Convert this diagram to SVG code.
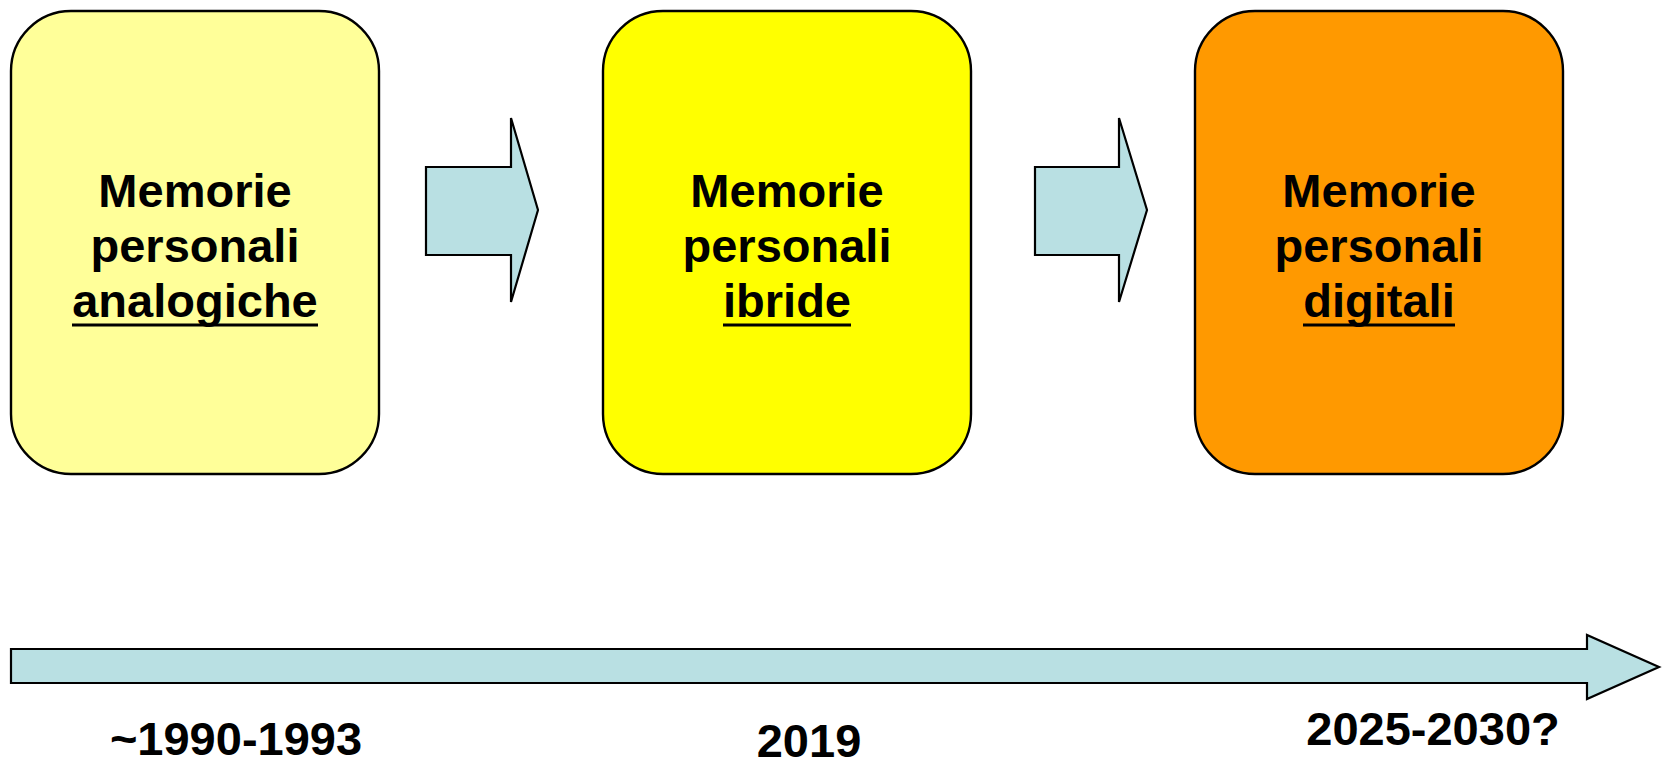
<svg xmlns="http://www.w3.org/2000/svg" width="1663" height="765" viewBox="0 0 1663 765">
<style>
.box{stroke:#000;stroke-width:2.4}
.arr{fill:#B9E0E3;stroke:#000;stroke-width:2.2;stroke-linejoin:miter}
.t{font-family:"Liberation Sans",Arial,sans-serif;font-weight:bold;font-size:47px;fill:#000;text-anchor:middle}
.ul{stroke:#000;stroke-width:3.2}
</style>
<rect x="0" y="0" width="1663" height="765" fill="#fff"/>
<g id="node-analogiche">
<rect class="box" x="11" y="11" width="368" height="463" rx="60" ry="60" fill="#FFFF99"/>
<text class="t" x="195" y="207">Memorie</text>
<text class="t" x="195" y="262">personali</text>
<text class="t" x="195" y="317">analogiche</text>
<line class="ul" x1="72" y1="325" x2="318" y2="325"/>
</g>
<g id="node-ibride">
<rect class="box" x="603" y="11" width="368" height="463" rx="60" ry="60" fill="#FFFF00"/>
<text class="t" x="787" y="207">Memorie</text>
<text class="t" x="787" y="262">personali</text>
<text class="t" x="787" y="317">ibride</text>
<line class="ul" x1="723" y1="325" x2="851" y2="325"/>
</g>
<g id="node-digitali">
<rect class="box" x="1195" y="11" width="368" height="463" rx="60" ry="60" fill="#FF9900"/>
<text class="t" x="1379" y="207">Memorie</text>
<text class="t" x="1379" y="262">personali</text>
<text class="t" x="1379" y="317">digitali</text>
<line class="ul" x1="1303" y1="325" x2="1455" y2="325"/>
</g>
<g id="connectors">
<polygon class="arr" points="426,167 511,167 511,118 538,210 511,302 511,255 426,255"/>
<polygon class="arr" points="1035,167 1119,167 1119,118 1147,210 1119,302 1119,255 1035,255"/>
<polygon class="arr" points="11,649 1587,649 1587,635 1659,667 1587,699 1587,683 11,683"/>
</g>
<g id="labels">
<text class="t" x="236" y="755">~1990-1993</text>
<text class="t" x="809" y="757">2019</text>
<text class="t" x="1433" y="745">2025-2030?</text>
</g>
</svg>
